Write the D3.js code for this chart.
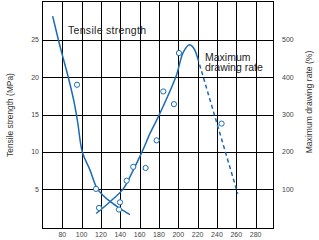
<!DOCTYPE html>
<html lang="en">
<head>
<meta charset="UTF-8">
<title>Tensile strength and drawing rate</title>
<style>
    body { margin: 0; background: #fff; }
    svg { display: block; font-family: "Liberation Sans", Arial, sans-serif; }
</style>
</head>
<body>
<svg></svg>
<script src="https://d3js.org/d3.v7.min.js"></script>
<script>
// x axis ticks along the bottom
var xTicks = [80, 100, 120, 140, 160, 180, 200, 220, 240, 260, 280];
var strengthTicks = [5, 10, 15, 20, 25];
var rateTicks = [100, 200, 300, 400, 500];

// tensile strength (MPa)
var tensileCurve = [
    [70, 28.2], [76, 25], [80, 23], [86, 20.1], [92, 16.8], [96, 13.9],
    [100.7, 10], [108.6, 7.6], [115.6, 5.2], [122, 4.2], [130, 3.3],
    [140, 2.4], [150, 1.6]
];
var tensilePoints = [[95.2, 19.0], [114.9, 5.05], [138.6, 2.28]];

// maximum drawing rate (%), solid fit then dashed extrapolation
var rateSolid = [
    [115, 35], [130, 68], [143, 101], [152, 144], [162.5, 200], [171, 251],
    [180, 298], [198, 405], [205, 466], [211.5, 487], [216, 478], [220, 452]
];
var rateDashed = [[220, 452], [261.5, 88]];
var ratePoints = [
    [118, 50], [139.7, 65], [146.6, 123], [153.4, 160], [166.2, 157],
    [177.6, 231], [184.5, 362], [195.5, 328], [200.7, 465], [244.8, 276]
];

var W = 319, H = 240;
var plotLeft = 42, plotRight = 273, plotTop = 1, plotBottom = 228;
var blue = "#1a6cb6";

var svg = d3.select("svg").attr("width", W).attr("height", H);

var x = d3.scaleLinear().domain([59, 298]).range([plotLeft, plotRight]);
var y = d3.scaleLinear().domain([-0.19, 30.22]).range([plotBottom, plotTop]);
var y2 = d3.scaleLinear().domain([-3.8, 604.4]).range([plotBottom, plotTop]);

function crisp(v) { return Math.round(v) + 0.5; }

// grid
var grid = svg.append("g").attr("stroke", "#000").attr("stroke-width", 1);
grid.selectAll("line.v").data(xTicks).enter().append("line")
    .attr("x1", function(d) { return crisp(x(d)); })
    .attr("x2", function(d) { return crisp(x(d)); })
    .attr("y1", plotTop).attr("y2", plotBottom);
grid.selectAll("line.h").data(strengthTicks).enter().append("line")
    .attr("y1", function(d) { return crisp(y(d)); })
    .attr("y2", function(d) { return crisp(y(d)); })
    .attr("x1", plotLeft).attr("x2", plotRight);
svg.append("rect")
    .attr("x", plotLeft + 0.5).attr("y", plotTop + 0.5)
    .attr("width", plotRight - plotLeft).attr("height", plotBottom - plotTop)
    .attr("fill", "none").attr("stroke", "#000");

// tick labels
var lab = svg.append("g").attr("fill", "#444").attr("font-size", 7);
lab.selectAll("text.x").data(xTicks).enter().append("text")
    .attr("x", function(d) { return x(d); })
    .attr("y", 236.5)
    .attr("text-anchor", "middle")
    .text(function(d) { return d; });
lab.selectAll("text.yl").data(strengthTicks).enter().append("text")
    .attr("x", 39)
    .attr("y", function(d) { return y(d); })
    .attr("dy", "0.35em")
    .attr("text-anchor", "end")
    .text(function(d) { return d; });
lab.selectAll("text.yr").data(rateTicks).enter().append("text")
    .attr("x", 282)
    .attr("y", function(d) { return y2(d); })
    .attr("dy", "0.35em")
    .text(function(d) { return d; });

// axis titles
svg.append("text")
    .attr("transform", "translate(12.5,115) rotate(-90)")
    .attr("text-anchor", "middle")
    .attr("font-size", 8.4).attr("fill", "#333")
    .text("Tensile strength (MPa)");
svg.append("text")
    .attr("transform", "translate(312,102) rotate(-90)")
    .attr("text-anchor", "middle")
    .attr("font-size", 8.6).attr("fill", "#333")
    .text("Maximum drawing rate (%)");

// curves
var line1 = d3.line()
    .x(function(d) { return x(d[0]); })
    .y(function(d) { return y(d[1]); })
    .curve(d3.curveCatmullRom.alpha(0.5));
var line2 = d3.line()
    .x(function(d) { return x(d[0]); })
    .y(function(d) { return y2(d[1]); })
    .curve(d3.curveCatmullRom.alpha(0.5));

svg.append("path").datum(tensileCurve)
    .attr("fill", "none").attr("stroke", blue).attr("stroke-width", 1.5)
    .attr("d", line1);
svg.append("path").datum(rateSolid)
    .attr("fill", "none").attr("stroke", blue).attr("stroke-width", 1.5)
    .attr("d", line2);
svg.append("path").datum(rateDashed)
    .attr("fill", "none").attr("stroke", blue).attr("stroke-width", 1.5)
    .attr("stroke-dasharray", "4,3")
    .attr("d", line2);

// measured points
svg.selectAll("circle.t").data(tensilePoints).enter().append("circle")
    .attr("cx", function(d) { return x(d[0]); })
    .attr("cy", function(d) { return y(d[1]); })
    .attr("r", 2.6)
    .attr("fill", "#fff").attr("stroke", blue).attr("stroke-width", 1);
svg.selectAll("circle.r").data(ratePoints).enter().append("circle")
    .attr("cx", function(d) { return x(d[0]); })
    .attr("cy", function(d) { return y2(d[1]); })
    .attr("r", 2.6)
    .attr("fill", "#fff").attr("stroke", blue).attr("stroke-width", 1);

// curve labels
var ann = svg.append("g").attr("font-size", 10.5).attr("fill", "#222");
ann.append("text").attr("x", 68).attr("y", 34)
    .attr("letter-spacing", 0.3).text("Tensile strength");
ann.append("text").attr("x", 205).attr("y", 61).text("Maximum");
ann.append("text").attr("x", 205).attr("y", 71).text("drawing rate");
</script>
</body>
</html>
